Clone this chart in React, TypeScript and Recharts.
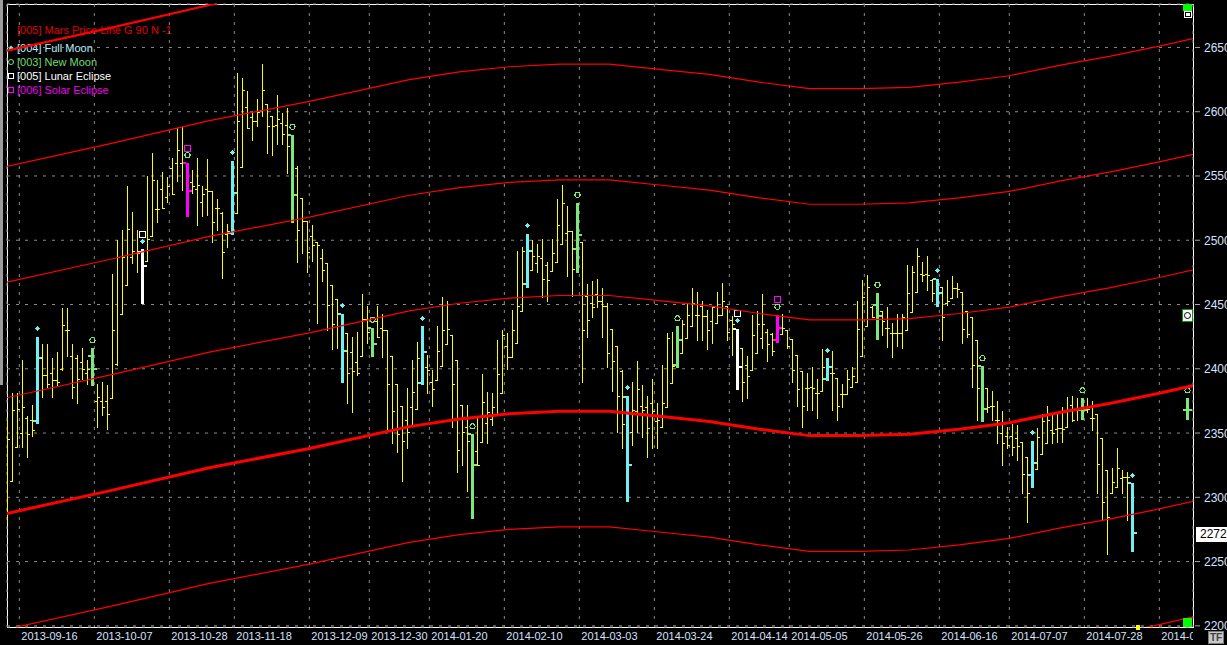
import { ComposedChart, Bar, Line, XAxis, YAxis, CartesianGrid } from 'recharts'

// daily bars, 2013-09-12 .. 2014-08-11 (bar 1..226)
const opens = [
  2300, 2313, 2339, 2350, 2362, 2360, 2359, 2408, 2395, 2397,
  2391, 2400, 2430, 2410, 2408, 2405, 2397, 2410, 2375, 2375,
  2375, 2377, 2404, 2443, 2465, 2487, 2490, 2491, 2484, 2503,
  2524, 2540, 2534, 2556, 2560, 2560, 2560, 2545, 2540, 2530,
  2540, 2538, 2525, 2521, 2505, 2506, 2521, 2557, 2604, 2596,
  2593, 2601, 2606, 2597, 2590, 2591, 2590, 2582, 2556, 2533,
  2515, 2503, 2499, 2486, 2482, 2465, 2454, 2443, 2428, 2413,
  2405, 2410, 2439, 2432, 2437, 2432, 2430, 2410, 2388, 2371,
  2360, 2370, 2369, 2389, 2401, 2390, 2391, 2402, 2419, 2426,
  2407, 2372, 2355, 2349, 2336, 2343, 2358, 2361, 2365, 2381,
  2418, 2409, 2420, 2445, 2466, 2477, 2482, 2486, 2481, 2476,
  2483, 2497, 2506, 2507, 2493, 2499, 2457, 2451, 2458, 2453,
  2449, 2431, 2418, 2398, 2378, 2351, 2367, 2371, 2370, 2373,
  2359, 2355, 2370, 2389, 2403, 2412, 2424, 2433, 2442, 2449,
  2441, 2437, 2436, 2442, 2449, 2438, 2431, 2416, 2403, 2399,
  2412, 2424, 2429, 2427, 2422, 2427, 2430, 2423, 2411, 2398,
  2385, 2386, 2381, 2383, 2392, 2397, 2393, 2380, 2380, 2386,
  2390, 2410, 2433, 2448, 2450, 2445, 2432, 2428, 2428, 2428,
  2430, 2444, 2460, 2474, 2474, 2469, 2470, 2464, 2451, 2455,
  2463, 2460, 2445, 2440, 2422, 2402, 2385, 2371, 2360, 2350,
  2348, 2348, 2346, 2343, 2331, 2317, 2322, 2334, 2342, 2352,
  2353, 2354, 2355, 2372, 2368, 2368, 2370, 2362, 2365, 2346,
  2321, 2303, 2308, 2315, 2316, 2311,
]
const highs = [
  2360, 2381, 2381, 2407, 2363, 2372, 2425, 2419, 2419, 2408,
  2413, 2447, 2447, 2419, 2411, 2416, 2407, 2416, 2388, 2390,
  2387, 2474, 2500, 2508, 2542, 2522, 2508, 2493, 2550, 2568,
  2547, 2553, 2549, 2564, 2587, 2588, 2560, 2555, 2564, 2542,
  2563, 2538, 2532, 2522, 2513, 2562, 2630, 2626, 2616, 2600,
  2610, 2637, 2606, 2597, 2613, 2599, 2603, 2582, 2558, 2533,
  2515, 2512, 2499, 2493, 2482, 2465, 2454, 2443, 2428, 2425,
  2429, 2458, 2449, 2432, 2449, 2443, 2430, 2410, 2388, 2371,
  2385, 2407, 2421, 2433, 2411, 2399, 2433, 2456, 2453, 2426,
  2407, 2372, 2372, 2349, 2362, 2396, 2382, 2381, 2422, 2430,
  2428, 2446, 2492, 2495, 2505, 2500, 2497, 2501, 2483, 2501,
  2532, 2543, 2527, 2507, 2529, 2499, 2466, 2468, 2470, 2463,
  2451, 2431, 2418, 2399, 2379, 2390, 2406, 2387, 2379, 2392,
  2373, 2403, 2428, 2429, 2433, 2438, 2451, 2463, 2460, 2453,
  2446, 2449, 2460, 2467, 2449, 2441, 2431, 2416, 2410, 2442,
  2445, 2458, 2431, 2428, 2442, 2443, 2430, 2423, 2411, 2398,
  2397, 2401, 2392, 2415, 2408, 2414, 2393, 2388, 2399, 2401,
  2453, 2469, 2473, 2449, 2459, 2445, 2448, 2436, 2443, 2443,
  2481, 2480, 2494, 2483, 2488, 2470, 2470, 2464, 2469, 2472,
  2467, 2460, 2445, 2440, 2422, 2402, 2385, 2383, 2375, 2367,
  2355, 2357, 2356, 2343, 2331, 2344, 2354, 2365, 2371, 2364,
  2365, 2370, 2378, 2379, 2377, 2377, 2377, 2375, 2365, 2346,
  2321, 2323, 2338, 2321, 2320, 2311,
]
const lows = [
  2281, 2313, 2339, 2339, 2331, 2348, 2358, 2378, 2386, 2378,
  2387, 2399, 2410, 2377, 2373, 2392, 2388, 2387, 2355, 2364,
  2353, 2377, 2403, 2443, 2465, 2482, 2475, 2451, 2484, 2503,
  2514, 2525, 2530, 2536, 2546, 2539, 2519, 2537, 2512, 2519,
  2520, 2499, 2508, 2471, 2495, 2505, 2521, 2557, 2587, 2578,
  2589, 2597, 2568, 2566, 2575, 2575, 2552, 2514, 2483, 2490,
  2475, 2484, 2436, 2468, 2430, 2415, 2416, 2390, 2373, 2366,
  2395, 2410, 2420, 2410, 2425, 2409, 2352, 2342, 2335, 2313,
  2338, 2357, 2369, 2388, 2381, 2371, 2391, 2402, 2419, 2355,
  2320, 2325, 2305, 2284, 2325, 2343, 2342, 2356, 2365, 2381,
  2400, 2409, 2420, 2445, 2464, 2477, 2475, 2456, 2453, 2476,
  2483, 2497, 2472, 2457, 2475, 2390, 2425, 2440, 2448, 2425,
  2401, 2383, 2351, 2338, 2297, 2341, 2351, 2347, 2331, 2338,
  2338, 2355, 2370, 2389, 2401, 2412, 2424, 2433, 2422, 2422,
  2415, 2420, 2436, 2442, 2422, 2411, 2384, 2375, 2377, 2399,
  2412, 2416, 2406, 2411, 2421, 2427, 2416, 2390, 2371, 2355,
  2368, 2368, 2362, 2383, 2391, 2368, 2360, 2370, 2380, 2386,
  2390, 2410, 2433, 2440, 2423, 2426, 2417, 2409, 2418, 2416,
  2430, 2444, 2460, 2468, 2461, 2453, 2449, 2422, 2450, 2455,
  2456, 2420, 2425, 2386, 2360, 2359, 2366, 2360, 2342, 2325,
  2338, 2333, 2329, 2303, 2281, 2308, 2322, 2334, 2342, 2342,
  2343, 2343, 2355, 2359, 2360, 2361, 2366, 2352, 2303, 2283,
  2256, 2303, 2308, 2303, 2282, 2258,
]
const closes = [
  2345, 2368, 2369, 2370, 2349, 2352, 2408, 2395, 2388, 2391,
  2390, 2434, 2430, 2386, 2392, 2400, 2400, 2400, 2378, 2370,
  2365, 2430, 2487, 2487, 2509, 2492, 2490, 2480, 2501, 2547,
  2524, 2525, 2542, 2536, 2570, 2560, 2538, 2542, 2543, 2536,
  2538, 2514, 2525, 2491, 2507, 2537, 2593, 2617, 2587, 2593,
  2600, 2617, 2589, 2589, 2594, 2583, 2573, 2535, 2508, 2515,
  2491, 2496, 2496, 2477, 2450, 2435, 2443, 2414, 2397, 2398,
  2397, 2439, 2429, 2419, 2425, 2430, 2388, 2367, 2349, 2344,
  2351, 2382, 2408, 2413, 2399, 2384, 2414, 2430, 2431, 2388,
  2337, 2351, 2344, 2325, 2325, 2374, 2366, 2370, 2396, 2426,
  2409, 2430, 2449, 2492, 2492, 2488, 2488, 2470, 2469, 2490,
  2512, 2529, 2507, 2478, 2504, 2430, 2438, 2448, 2453, 2449,
  2412, 2406, 2379, 2357, 2325, 2368, 2384, 2368, 2354, 2367,
  2360, 2373, 2424, 2402, 2422, 2435, 2442, 2451, 2442, 2441,
  2430, 2448, 2442, 2453, 2429, 2435, 2401, 2390, 2394, 2426,
  2435, 2435, 2419, 2414, 2432, 2432, 2418, 2399, 2384, 2371,
  2385, 2385, 2381, 2401, 2401, 2397, 2371, 2380, 2392, 2394,
  2431, 2456, 2464, 2440, 2441, 2437, 2432, 2428, 2428, 2440,
  2459, 2475, 2488, 2473, 2473, 2459, 2459, 2440, 2453, 2463,
  2462, 2431, 2427, 2403, 2385, 2369, 2370, 2371, 2360, 2342,
  2341, 2339, 2340, 2318, 2303, 2327, 2347, 2359, 2360, 2350,
  2354, 2353, 2367, 2360, 2368, 2368, 2369, 2362, 2326, 2296,
  2285, 2312, 2323, 2316, 2316, 2272,
]
// bar projected ahead of the last session
const projectedBars = [{ k: 237, o: 2368, h: 2377, l: 2361, c: 2368 }]

// bar numbers of the lunar events
const fullMoon = [7, 28, 46, 68, 84, 105, 125, 147, 165, 187, 206, 226]
const newMoon = [18, 37, 58, 74, 94, 115, 135, 155, 175, 196, 216, 237]
const lunarEclipse = [28, 147]
const solarEclipse = [37, 155]

const tickBars = [3, 18, 33, 46, 61, 73, 85, 100, 115, 130, 145, 157, 172, 187, 201, 216, 231]
const tickDates = [
  '2013-09-16', '2013-10-07', '2013-10-28', '2013-11-18', '2013-12-09', '2013-12-30',
  '2014-01-20', '2014-02-10', '2014-03-03', '2014-03-24', '2014-04-14', '2014-05-05',
  '2014-05-26', '2014-06-16', '2014-07-07', '2014-07-28', '2014-08-18',
]
const priceTicks = [2200, 2250, 2300, 2350, 2400, 2450, 2500, 2550, 2600, 2650]

// Mars price line, read every 10 bars, and its 90 point harmonics
const marsBars = [0, 21, 41, 61, 81, 91, 101, 111, 121, 131, 141, 151, 161, 171, 181, 191, 201, 211, 221, 231, 239]
const marsValues = [2287, 2305, 2323, 2338, 2355, 2361, 2365, 2367, 2367, 2363, 2359, 2353, 2348, 2348, 2349, 2353, 2358, 2366, 2373, 2381, 2388]
const marsOffsets = [-180, -90, 0, 90, 180, 270, 360]
const lastPrice = 2272

const PLOT_RIGHT = 1193
const FONT = '"Liberation Sans", Arial, sans-serif'

const YELLOW = '#ffff00'
const CYAN = '#70f0f0'
const GREEN = '#7ce87c'
const MAGENTA = '#ff00ff'

const bars = [
  ...opens.map((o, i) => ({ k: i + 1, o, h: highs[i], l: lows[i], c: closes[i] })),
  ...projectedBars,
].map(b => ({ ...b, range: [b.l, b.h] }))

const marsLines = marsOffsets.map(off => ({
  off,
  data: marsBars.map((k, i) => ({ k, v: marsValues[i] + off })),
}))

function OhlcBar(props: any) {
  const { x, y, width, height, payload } = props
  if (!payload) return null
  const { k, o, h, l, c } = payload
  const top = Math.min(y, y + height)
  const span = Math.abs(height)
  const py = (v: number) => top + ((h - v) / (h - l || 1)) * span
  const lx = Math.floor(x + width / 2 - 2) + 0.5

  const isFull = fullMoon.includes(k)
  const isNew = newMoon.includes(k)
  const isLunar = lunarEclipse.includes(k)
  const isSolar = solarEclipse.includes(k)

  let color = YELLOW
  if (isFull) color = CYAN
  if (isNew) color = GREEN
  if (isLunar) color = '#ffffff'
  if (isSolar) color = MAGENTA

  const marks = []
  if (isFull) {
    const my = top - 8
    marks.push(<path key="d" d={`M${lx} ${my - 2.5} L${lx + 2.5} ${my} L${lx} ${my + 2.5} L${lx - 2.5} ${my} Z`} fill={CYAN} />)
  }
  if (isNew) {
    marks.push(<circle key="c" cx={lx} cy={top - 8} r={2.6} fill="none" stroke={GREEN} strokeWidth={1} />)
  }
  if (isLunar) {
    marks.push(<rect key="l" x={lx - 3} y={top - 18} width={6} height={6} fill="none" stroke="#ffffff" strokeWidth={1} />)
  }
  if (isSolar) {
    marks.push(<rect key="s" x={lx - 3} y={top - 18} width={6} height={6} fill="none" stroke={MAGENTA} strokeWidth={1} />)
  }

  if (color === YELLOW) {
    return (
      <g shapeRendering="crispEdges">
        <line x1={lx} x2={lx} y1={top} y2={top + span + 1} stroke={color} strokeWidth={1} />
        <line x1={lx - 2.5} x2={lx} y1={Math.round(py(o)) + 0.5} y2={Math.round(py(o)) + 0.5} stroke={color} strokeWidth={1} />
        <line x1={lx} x2={lx + 2.5} y1={Math.round(py(c)) + 0.5} y2={Math.round(py(c)) + 0.5} stroke={color} strokeWidth={1} />
      </g>
    )
  }
  return (
    <g shapeRendering="crispEdges">
      <rect x={lx - 1.5} y={top} width={3} height={span + 1} fill={color} />
      <rect x={lx - 4.5} y={Math.round(py(o)) - 1} width={3} height={2} fill={color} />
      <rect x={lx + 1.5} y={Math.round(py(c)) - 1} width={3} height={2} fill={color} />
      {marks}
    </g>
  )
}

function PriceTick(props: any) {
  const { x, y, payload } = props
  return (
    <g>
      <line x1={x + 2} x2={x + 7} y1={y} y2={y} stroke="#a8a8a8" strokeWidth={1} />
      <text x={x + 11} y={y + 4.5} fill="#d4e2ff" fontSize={12} fontFamily={FONT}>
        {payload.value}
      </text>
    </g>
  )
}

function DateTick(props: any) {
  const { x, y, payload } = props
  const label = tickDates[tickBars.indexOf(payload.value)] ?? ''
  const w = Math.max(0, PLOT_RIGHT - x)
  return (
    <svg x={x} y={y} width={w} height={18} overflow="hidden">
      <text x={2} y={13} fill="#d4e2ff" fontSize={11} fontFamily={FONT}>
        {label}
      </text>
    </svg>
  )
}

const legendItems = [
  { label: '[004] Full Moon', color: '#b8f0ff', mark: 'diamond' },
  { label: '[003] New Moon', color: '#6fdc6f', mark: 'circle' },
  { label: '[005] Lunar Eclipse', color: '#ffffff', mark: 'square' },
  { label: '[006] Solar Eclipse', color: '#ee00ee', mark: 'square' },
]

export default function App() {
  return (
    <div style={{ position: 'relative', width: 1227, height: 645, background: '#000', overflow: 'hidden', fontFamily: FONT }}>
      <style>{'body{margin:0;background:#000}'}</style>
      <div style={{ position: 'absolute', left: 0, top: 0, width: 3, height: 385, background: '#9c9c9c' }} />
      <div style={{ position: 'absolute', left: 7, top: 4, width: 1187, height: 624, border: '1px solid #ffffff', boxSizing: 'border-box' }} />

      <svg style={{ position: 'absolute', left: 0, top: 0 }} width={260} height={100}>
        <text x={17} y={34} fill="#e00000" fontSize={11} fontFamily={FONT}>[005] Mars Price Line G 90 N -1</text>
        {legendItems.map((it, i) => {
          const cy = 48 + i * 14
          const sym = it.mark === 'diamond'
            ? <path d={`M11 ${cy - 2.5} L13.5 ${cy} L11 ${cy + 2.5} L8.5 ${cy} Z`} fill={CYAN} />
            : it.mark === 'circle'
              ? <circle cx={11} cy={cy} r={2.5} fill="none" stroke={GREEN} />
              : <rect x={8.5} y={cy - 2.5} width={5} height={5} fill="none" stroke={i === 3 ? MAGENTA : '#ffffff'} />
          return (
            <g key={it.label}>
              {sym}
              <text x={17} y={cy + 4} fill={it.color} fontSize={11} fontFamily={FONT}>{it.label}</text>
            </g>
          )
        })}
      </svg>

      <div style={{ position: 'absolute', left: 0, top: 0 }}>
        <ComposedChart width={1227} height={645} data={bars} margin={{ top: 4, right: 0, bottom: 0, left: 7 }}>
          <CartesianGrid stroke="#8a8a8a" strokeDasharray="3 6" />
          <XAxis
            dataKey="k"
            type="number"
            domain={[0.534, 237.734]}
            allowDataOverflow
            ticks={tickBars}
            interval={0}
            height={18}
            axisLine={false}
            tickLine={false}
            tickSize={0}
            tickMargin={0}
            tick={<DateTick />}
          />
          <YAxis
            orientation="right"
            width={34}
            domain={[2199.1, 2683.8]}
            allowDataOverflow
            ticks={priceTicks}
            interval={0}
            axisLine={false}
            tickLine={false}
            tickSize={0}
            tickMargin={0}
            tick={<PriceTick />}
          />
          {marsLines.map(m => (
            <Line
              key={m.off}
              data={m.data}
              dataKey="v"
              type="linear"
              stroke="#ff0000"
              strokeWidth={m.off === 0 ? 3 : m.off === 360 ? 2.2 : 1.2}
              dot={false}
              activeDot={false}
              isAnimationActive={false}
            />
          ))}
          <Bar dataKey="range" barSize={5} shape={<OhlcBar />} isAnimationActive={false} />
        </ComposedChart>
      </div>

      <div style={{ position: 'absolute', left: 1183, top: 4, width: 9, height: 7, background: '#00ff00' }} />
      <div style={{ position: 'absolute', left: 1184, top: 11, width: 8, height: 7, background: '#ffffff' }}>
        <div style={{ position: 'absolute', left: 1, top: 1, width: 6, height: 5, background: '#000' }}>
          <div style={{ position: 'absolute', left: 1, top: 1, width: 4, height: 3, background: '#fff' }} />
        </div>
      </div>
      <div style={{ position: 'absolute', left: 1182, top: 309, width: 11, height: 13, background: '#ffffff', border: '1px solid #00a000', boxSizing: 'border-box' }}>
        <div style={{ position: 'absolute', left: 1, top: 2, width: 7, height: 7, border: '1px solid #000', borderRadius: '50%', boxSizing: 'border-box' }} />
      </div>
      <div style={{ position: 'absolute', left: 1183, top: 618, width: 9, height: 9, background: '#00ff00' }} />
      <div style={{ position: 'absolute', left: 1136, top: 625, width: 4, height: 5, background: '#ffff00' }} />
      <div style={{ position: 'absolute', left: 1196, top: 527, width: 31, height: 15, background: '#ffffff', color: '#000', fontSize: 12, lineHeight: '15px', paddingLeft: 4, boxSizing: 'border-box' }}>
        {lastPrice}
      </div>
      <div style={{ position: 'absolute', left: 1208, top: 631, width: 16, height: 13, background: '#c8c8c8', border: '1px solid #7a7a7a', boxSizing: 'border-box', color: '#404040', fontSize: 10, fontWeight: 'bold', lineHeight: '11px', textAlign: 'center' }}>
        TF
      </div>
    </div>
  )
}
